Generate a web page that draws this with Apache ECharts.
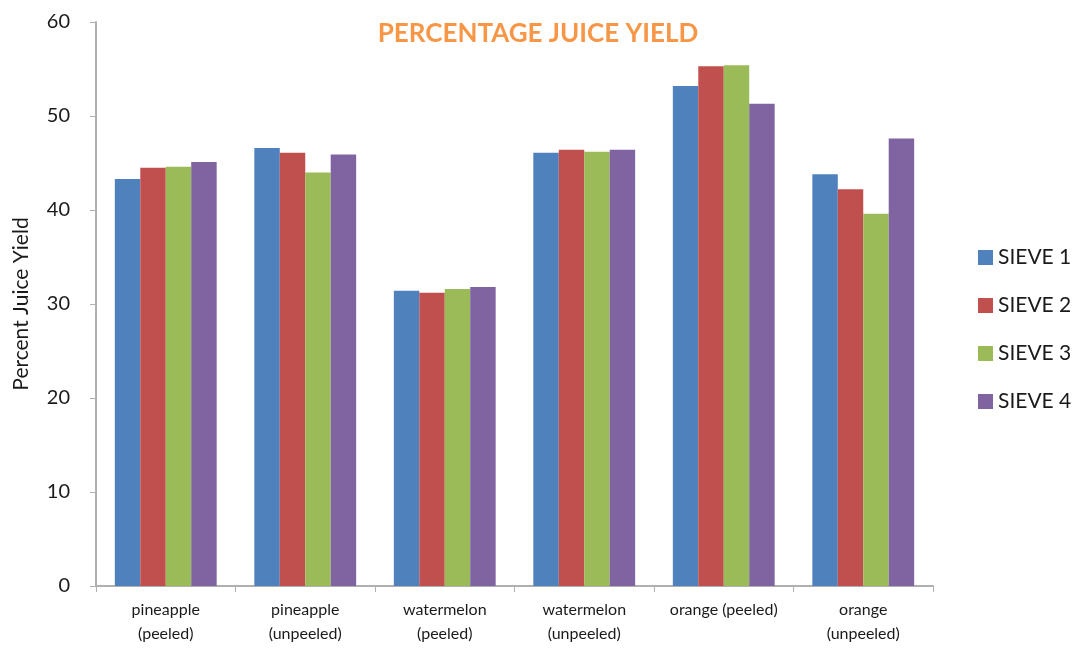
<!DOCTYPE html>
<html><head><meta charset="utf-8">
<script src="https://cdn.jsdelivr.net/npm/echarts@6/dist/echarts.min.js"></script>
<style>html,body{margin:0;padding:0;background:#fff}#c{width:1080px;height:650px}</style>
</head><body><div id="c"></div>
<script>
const categories = ["pineapple\n(peeled)", "pineapple\n(unpeeled)", "watermelon\n(peeled)", "watermelon\n(unpeeled)", "orange (peeled)", "orange\n(unpeeled)"];
const seriesNames = ["SIEVE 1", "SIEVE 2", "SIEVE 3", "SIEVE 4"];
const sieve1 = [43.3, 46.6, 31.4, 46.1, 53.2, 43.8];
const sieve2 = [44.5, 46.1, 31.2, 46.4, 55.3, 42.2];
const sieve3 = [44.6, 44.0, 31.6, 46.2, 55.4, 39.6];
const sieve4 = [45.1, 45.9, 31.8, 46.4, 51.3, 47.6];
const colors = ["#4F81BD", "#C0504D", "#9BBB59", "#8064A2"];
const yTicks = [0, 10, 20, 30, 40, 50, 60];

const font = "Lato";
const chart = echarts.init(document.getElementById('c'));
const values = [sieve1, sieve2, sieve3, sieve4];
chart.setOption({
  animation: false,
  title: {
    text: "PERCENTAGE JUICE YIELD",
    left: 533, top: 16, textAlign: 'center',
    textStyle: {color: "#F79646", fontSize: 26, fontWeight: 'bold', fontFamily: font}
  },
  legend: {
    orient: 'vertical', left: 973, top: 242,
    itemWidth: 15, itemHeight: 15, itemGap: 27,
    icon: 'rect',
    textStyle: {fontSize: 21, lineHeight: 21, color: '#1a1a1a', fontFamily: font},
    data: seriesNames
  },
  grid: {left: 96, right: 147, top: 22, bottom: 64},
  xAxis: {
    type: 'category', data: categories,
    axisLine: {lineStyle: {color: '#b0b0b0', width: 2}},
    axisTick: {show: true, length: 6, lineStyle: {color: '#b0b0b0'}},
    axisLabel: {fontSize: 16, color: '#1a1a1a', fontFamily: font, lineHeight: 24, margin: 12, interval: 0}
  },
  yAxis: {
    type: 'value', min: yTicks[0], max: yTicks[yTicks.length-1], interval: 10,
    name: "Percent Juice Yield", nameLocation: 'middle', nameGap: 64, nameRotate: 90,
    nameTextStyle: {fontSize: 21, color: '#1a1a1a', fontFamily: font},
    axisLine: {show: true, lineStyle: {color: '#b0b0b0', width: 2}},
    axisTick: {show: true, length: 6, lineStyle: {color: '#b0b0b0'}},
    splitLine: {show: false},
    axisLabel: {fontSize: 20, color: '#1a1a1a', fontFamily: font, margin: 26}
  },
  series: seriesNames.map((n, i) => ({
    name: n, type: 'bar', data: values[i],
    itemStyle: {color: colors[i]},
    barGap: '0%', barCategoryGap: '27%'
  }))
});
</script></body></html>
